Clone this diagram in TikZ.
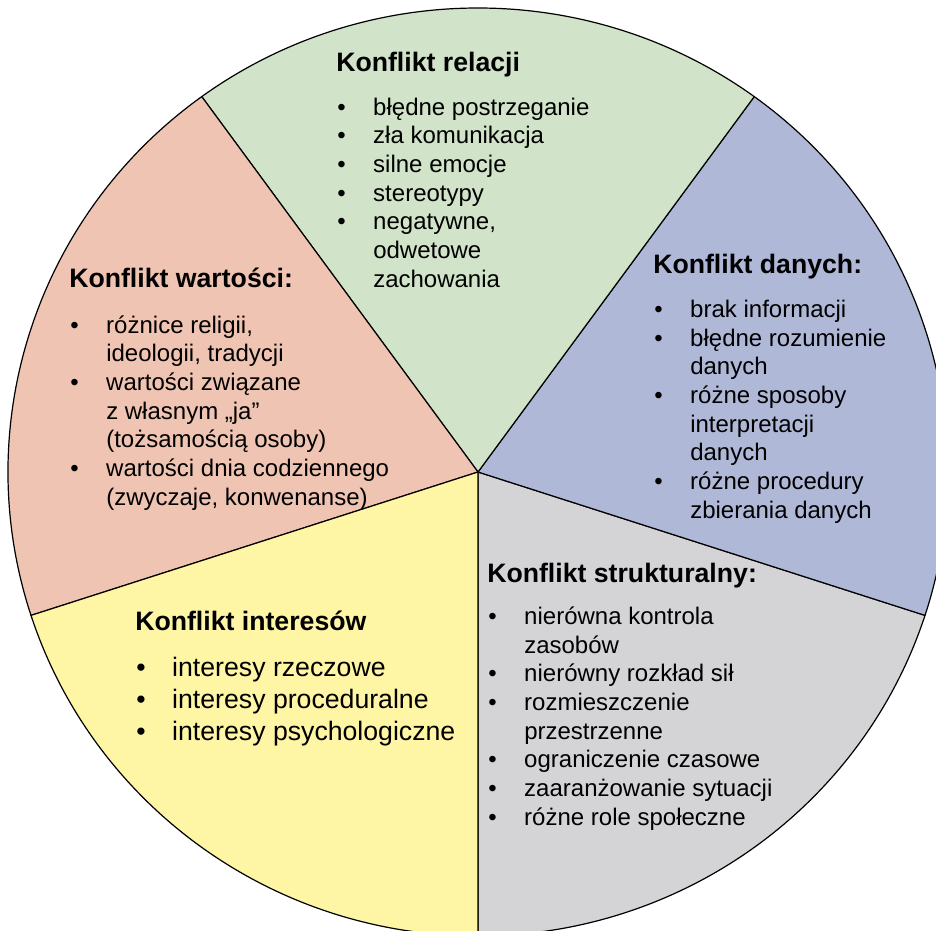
\documentclass[tikz,border=0pt]{standalone}
\usepackage{fontspec}
\setmainfont{Liberation Sans}

\definecolor{relacje}{RGB}{209,227,200}
\definecolor{dane}{RGB}{176,184,216}
\definecolor{struktura}{RGB}{212,212,214}
\definecolor{interesy}{RGB}{255,246,165}
\definecolor{wartosci}{RGB}{240,196,178}

\newcommand{\pkt}{\makebox[27pt][l]{•}}
\newcommand{\dalej}{\hspace*{27pt}}

\tikzset{
  tytul/.style={anchor=base west, inner sep=0pt, font=\bfseries\fontsize{20}{24}\selectfont},
  % base listy = linia bazowa ostatniego wiersza
  lista/.style={anchor=base west, inner sep=0pt, align=left, font=\fontsize{18}{21.5}\selectfont},
  duza lista/.style={lista, font=\fontsize{20}{23.8}\selectfont}
}

\begin{document}
\begin{tikzpicture}[x=0.75pt, y=0.75pt]
\useasboundingbox (0,0) rectangle (936,-931);
\clip (0,0) rectangle (936,-931);
\coordinate (O) at (478,-472);
% piec wycinkow po 72 stopnie
\foreach \a/\kolor in {-90/struktura, -18/dane, 54/relacje, 126/wartosci, 198/interesy}
  \filldraw[fill=\kolor, draw=black, line width=0.9pt, line join=round] (O) -- ++(\a:470 and 464) arc[start angle=\a, delta angle=72, x radius=470, y radius=464] -- cycle;

\node[tytul] (relT) at (336,-72) {Konflikt relacji};
\node[lista] (relL) at (337,-287) {\pkt błędne postrzeganie\\ \pkt zła komunikacja\\ \pkt silne emocje\\ \pkt stereotypy\\ \pkt negatywne,\\ \dalej odwetowe\\ \dalej zachowania};

\node[tytul] (danT) at (653,-273) {Konflikt danych:};
\node[lista] (danL) at (654,-518) {\pkt brak informacji\\ \pkt błędne rozumienie\\ \dalej danych\\ \pkt różne sposoby\\ \dalej interpretacji\\ \dalej danych\\ \pkt różne procedury\\ \dalej zbierania danych};

\node[tytul] (warT) at (69,-287) {Konflikt wartości:};
\node[lista] (warL) at (70,-505) {\pkt różnice religii,\\ \dalej ideologii, tradycji\\ \pkt wartości związane\\ \dalej z własnym „ja”\\ \dalej (tożsamością osoby)\\ \pkt wartości dnia codziennego\\ \dalej (zwyczaje, konwenanse)};

\node[tytul] (strT) at (487,-582) {Konflikt strukturalny:};
\node[lista] (strL) at (488,-825) {\pkt nierówna kontrola\\ \dalej zasobów\\ \pkt nierówny rozkład sił\\ \pkt rozmieszczenie\\ \dalej przestrzenne\\ \pkt ograniczenie czasowe\\ \pkt zaaranżowanie sytuacji\\ \pkt różne role społeczne};

\node[tytul] (intT) at (135,-630) {Konflikt interesów};
\node[duza lista] (intL) at (136,-740) {\pkt interesy rzeczowe\\ \pkt interesy proceduralne\\ \pkt interesy psychologiczne};
\end{tikzpicture}
\end{document}
